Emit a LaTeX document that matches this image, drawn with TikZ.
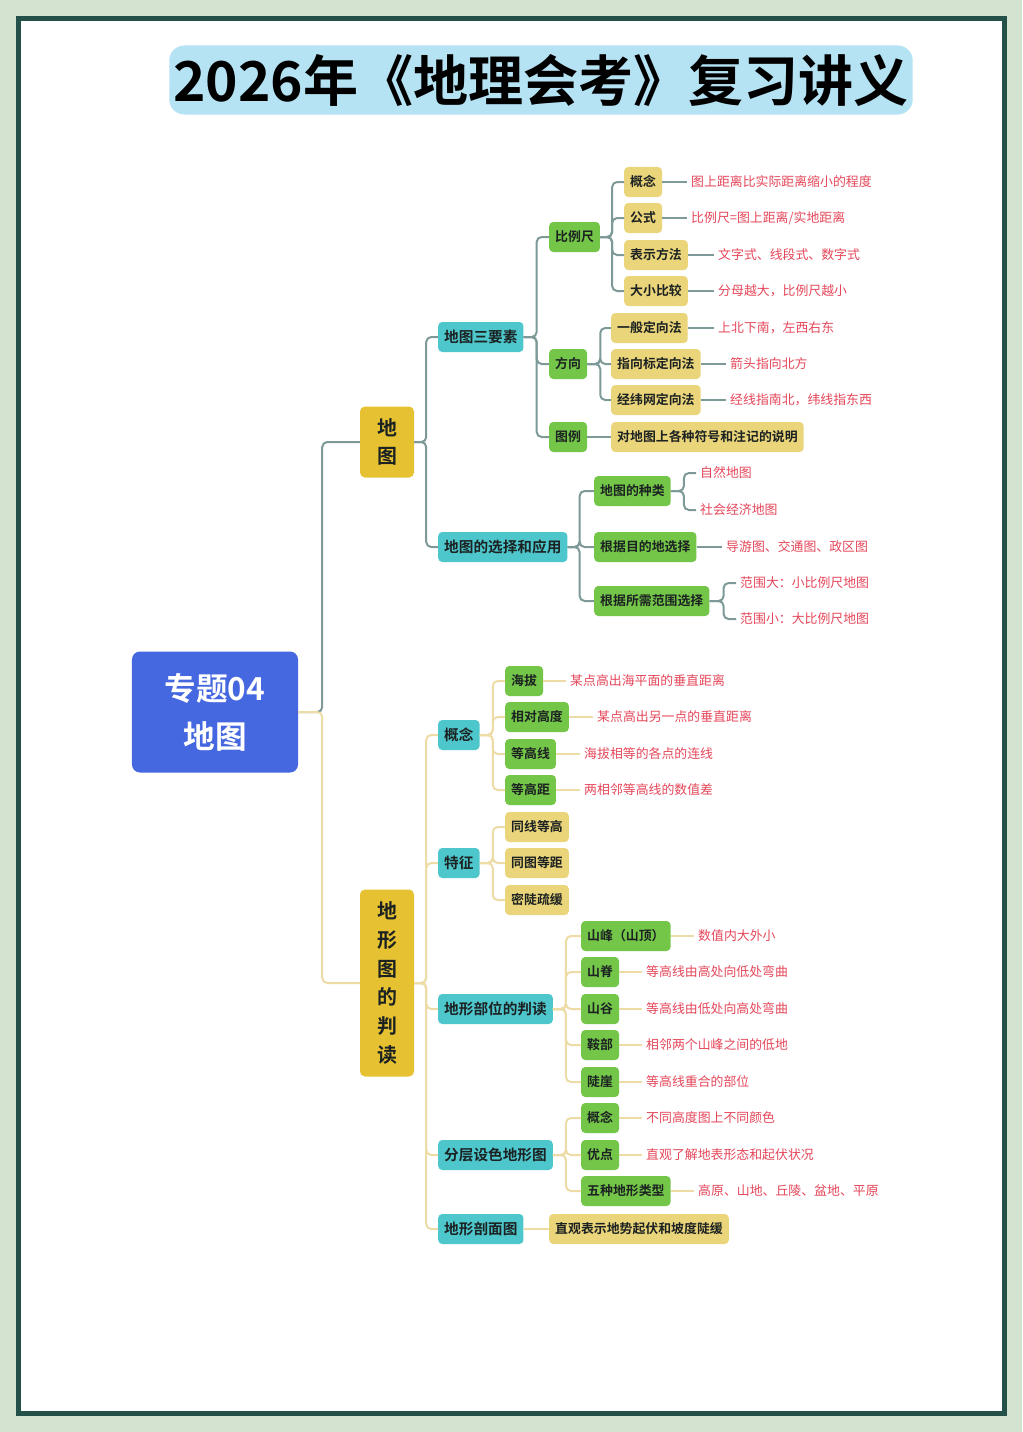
\documentclass[tikz,border=0pt]{standalone}
\usepackage{fontspec}
\setmainfont{Noto Sans CJK SC}[BoldFont={Noto Sans CJK SC Bold}]
\usepackage{xcolor}
\usepackage{tikz}

\definecolor{pagegreen}{HTML}{D3E3CF}
\definecolor{framegreen}{HTML}{24504A}
\definecolor{titleblue}{HTML}{B5E3F4}
\definecolor{rootblue}{HTML}{4567E0}
\definecolor{topicgold}{HTML}{E6C232}
\definecolor{subcyan}{HTML}{4DC6CC}
\definecolor{leafgreen}{HTML}{74C648}
\definecolor{notegold}{HTML}{EBD57A}
\definecolor{descred}{HTML}{E5475A}
\definecolor{textdark}{HTML}{1C2222}
\definecolor{linegray}{HTML}{7E9A98}
\definecolor{linegold}{HTML}{EEDCA6}

\begin{document}
\begin{tikzpicture}[x=0.03cm, y=-0.03cm,
    titlebox/.style={fill=titleblue, rounded corners=0.45cm, minimum width=22.26cm, minimum height=2.07cm, font=\bfseries\fontsize{47}{50}\selectfont},
    root/.style={fill=rootblue, rounded corners=0.24cm, text=white, align=center, minimum width=4.98cm, minimum height=3.63cm, font=\bfseries\fontsize{27}{41}\selectfont},
    topic/.style={fill=topicgold, rounded corners=0.15cm, align=center, minimum width=1.62cm, inner sep=0pt, text=textdark, font=\bfseries\fontsize{17}{24.5}\selectfont},
    box/.style={anchor=west, rounded corners=0.12cm, minimum height=0.9cm, inner xsep=0.18cm, inner ysep=0pt, text=textdark},
    sub/.style={box, fill=subcyan, font=\bfseries\fontsize{12.5}{14}\selectfont},
    leaf/.style={box, fill=leafgreen, font=\bfseries\fontsize{11}{13}\selectfont},
    note/.style={box, fill=notegold, font=\bfseries\fontsize{11}{13}\selectfont},
    desc/.style={anchor=west, inner xsep=0.12cm, inner ysep=0pt, text=descred, font=\fontsize{11}{13}\selectfont},
    grayline/.style={draw=linegray, line width=0.06cm, rounded corners=0.15cm},
    goldline/.style={draw=linegold, line width=0.06cm, rounded corners=0.15cm}]

    % page and frame
    \fill[pagegreen] (0,0) rectangle (1022,1432);
    \useasboundingbox (0,0) rectangle (1022,1432);
    \draw[framegreen, line width=0.15cm, fill=white] (18.5,18.5) rectangle (1004,1413);

    % title
    \node[titlebox] (title) at (541,80) {2026年《地理会考》复习讲义};

    % root and the two topics
    \node[root] (root) at (215,712) {专题04\\地图};
    \node[topic, minimum height=2.13cm] (map) at (387,442) {地\\图};
    \node[topic, minimum height=5.61cm] (read) at (387,983) {地\\形\\图\\的\\判\\读};
    \draw[grayline] (root.east) -- ++(24,0) |- (map.west);
    \draw[goldline] (root.east) -- ++(24,0) |- (read.west);

    % ---- 地图 ----
    \node[sub] (elem) at (438,337) {地图三要素};
    \node[sub] (use) at (438,547) {地图的选择和应用};
    \foreach \c in {elem,use}
        \draw[grayline] (map.east) -- ++(12,0) |- (\c.west);

    \node[leaf] (scale) at (549,237) {比例尺};
    \node[leaf] (dir) at (549,364) {方向};
    \node[leaf] (legend) at (549,437) {图例};
    \foreach \c in {scale,dir,legend}
        \draw[grayline] (elem.east) -- ++(13,0) |- (\c.west);

    \node[note] (sconcept) at (624,182) {概念};
    \node[note] (sformula) at (624,218) {公式};
    \node[note] (sform) at (624,255) {表示方法};
    \node[note] (scompare) at (624,291) {大小比较};
    \foreach \c in {sconcept,sformula,sform,scompare}
        \draw[grayline] (scale.east) -- ++(12,0) |- (\c.west);
    \node[desc] (tsconcept) at (687,182) {图上距离比实际距离缩小的程度};
    \node[desc] (tsformula) at (687,218) {比例尺=图上距离/实地距离};
    \node[desc] (tsform) at (714,255) {文字式、线段式、数字式};
    \node[desc] (tscompare) at (714,291) {分母越大，比例尺越小};
    \foreach \c in {sconcept,sformula,sform,scompare}
        \draw[grayline] (\c.east) -- (t\c.west);

    \node[note] (dgeneral) at (611,328) {一般定向法};
    \node[note] (darrow) at (611,364) {指向标定向法};
    \node[note] (dgrid) at (611,400) {经纬网定向法};
    \foreach \c in {dgeneral,darrow,dgrid}
        \draw[grayline] (dir.east) -- ++(13,0) |- (\c.west);
    \node[desc] (tdgeneral) at (714,328) {上北下南，左西右东};
    \node[desc] (tdarrow) at (726,364) {箭头指向北方};
    \node[desc] (tdgrid) at (726,400) {经线指南北，纬线指东西};
    \foreach \c in {dgeneral,darrow,dgrid}
        \draw[grayline] (\c.east) -- (t\c.west);

    \node[note] (legendnote) at (611,437) {对地图上各种符号和注记的说明};
    \draw[grayline] (legend.east) -- (legendnote.west);

    \node[leaf] (kind) at (594,491) {地图的种类};
    \node[leaf] (purpose) at (594,547) {根据目的地选择};
    \node[leaf] (range) at (594,601) {根据所需范围选择};
    \foreach \c in {kind,purpose,range}
        \draw[grayline] (use.east) -- ++(12,0) |- (\c.west);
    \node[desc] (tnature) at (696,473) {自然地图};
    \node[desc] (tsocial) at (696,510) {社会经济地图};
    \foreach \c in {tnature,tsocial}
        \draw[grayline] (kind.east) -- ++(13,0) |- (\c.west);
    \node[desc] (tpurpose) at (722,547) {导游图、交通图、政区图};
    \draw[grayline] (purpose.east) -- (tpurpose.west);
    \node[desc] (tbig) at (736,583) {范围大：小比例尺地图};
    \node[desc] (tsmall) at (736,619) {范围小：大比例尺地图};
    \foreach \c in {tbig,tsmall}
        \draw[grayline] (range.east) -- ++(14,0) |- (\c.west);

    % ---- 地形图的判读 ----
    \node[sub] (concept) at (438,735) {概念};
    \node[sub] (feature) at (438,863) {特征};
    \node[sub] (parts) at (438,1009) {地形部位的判读};
    \node[sub] (layer) at (438,1155) {分层设色地形图};
    \node[sub] (profile) at (438,1229) {地形剖面图};
    \foreach \c in {concept,feature,parts,layer,profile}
        \draw[goldline] (read.east) -- ++(12,0) |- (\c.west);

    \node[leaf] (alt) at (505,681) {海拔};
    \node[leaf] (rel) at (505,717) {相对高度};
    \node[leaf] (cline) at (505,754) {等高线};
    \node[leaf] (cgap) at (505,790) {等高距};
    \foreach \c in {alt,rel,cline,cgap}
        \draw[goldline] (concept.east) -- ++(13,0) |- (\c.west);
    \node[desc] (talt) at (566,681) {某点高出海平面的垂直距离};
    \node[desc] (trel) at (593,717) {某点高出另一点的垂直距离};
    \node[desc] (tcline) at (580,754) {海拔相等的各点的连线};
    \node[desc] (tcgap) at (580,790) {两相邻等高线的数值差};
    \foreach \c in {alt,rel,cline,cgap}
        \draw[goldline] (\c.east) -- (t\c.west);

    \node[note] (fsame) at (505,827) {同线等高};
    \node[note] (fequal) at (505,863) {同图等距};
    \node[note] (fdense) at (505,900) {密陡疏缓};
    \foreach \c in {fsame,fequal,fdense}
        \draw[goldline] (feature.east) -- ++(13,0) |- (\c.west);

    \node[leaf] (peak) at (581,936) {山峰（山顶）};
    \node[leaf] (ridge) at (581,972) {山脊};
    \node[leaf] (valley) at (581,1009) {山谷};
    \node[leaf] (saddle) at (581,1045) {鞍部};
    \node[leaf] (cliff) at (581,1082) {陡崖};
    \foreach \c in {peak,ridge,valley,saddle,cliff}
        \draw[goldline] (parts.east) -- ++(13,0) |- (\c.west);
    \node[desc] (tpeak) at (694,936) {数值内大外小};
    \node[desc] (tridge) at (642,972) {等高线由高处向低处弯曲};
    \node[desc] (tvalley) at (642,1009) {等高线由低处向高处弯曲};
    \node[desc] (tsaddle) at (642,1045) {相邻两个山峰之间的低地};
    \node[desc] (tcliff) at (642,1082) {等高线重合的部位};
    \foreach \c in {peak,ridge,valley,saddle,cliff}
        \draw[goldline] (\c.east) -- (t\c.west);

    \node[leaf] (lconcept) at (581,1118) {概念};
    \node[leaf] (lmerit) at (581,1155) {优点};
    \node[leaf] (ltypes) at (581,1191) {五种地形类型};
    \foreach \c in {lconcept,lmerit,ltypes}
        \draw[goldline] (layer.east) -- ++(13,0) |- (\c.west);
    \node[desc] (tlconcept) at (642,1118) {不同高度图上不同颜色};
    \node[desc] (tlmerit) at (642,1155) {直观了解地表形态和起伏状况};
    \node[desc] (tltypes) at (694,1191) {高原、山地、丘陵、盆地、平原};
    \foreach \c in {lconcept,lmerit,ltypes}
        \draw[goldline] (\c.east) -- (t\c.west);

    \node[note] (profilenote) at (549,1229) {直观表示地势起伏和坡度陡缓};
    \draw[goldline] (profile.east) -- (profilenote.west);
\end{tikzpicture}
\end{document}
